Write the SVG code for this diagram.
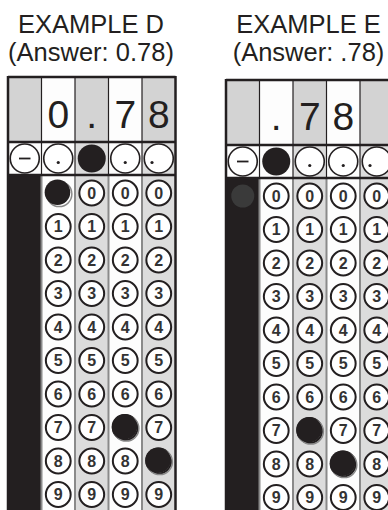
<svg xmlns="http://www.w3.org/2000/svg" width="388" height="510" viewBox="0 0 388 510">
<defs>
<style>
.title{font-family:"Liberation Sans",Arial,sans-serif;font-size:25.5px;fill:#231f20;text-anchor:middle}
.big{font-family:"Liberation Sans",Arial,sans-serif;font-size:39px;fill:#231f20;text-anchor:middle}
.num{font-family:"Liberation Sans",Arial,sans-serif;font-size:16px;font-weight:bold;fill:#333;text-anchor:middle}
.gray{fill:#d3d3d3}
.lt{fill:#dcdcdc}
.wh{fill:#fdfdfd}
.blk{fill:#231f20}
.bub{fill:#fff;stroke:#231f20;stroke-width:2}
.bbub{fill:#fff;stroke:#231f20;stroke-width:1.6}
.fill{fill:#231f20}
.ring{fill:none;stroke:#888;stroke-width:1.5}
.sep{stroke:#8a8a8a;stroke-width:2}
.thin{stroke:#231f20;stroke-width:1.2}
.thick{stroke:#231f20;stroke-width:2.5;fill:none}
</style>
<g id="dcol">
<circle class="bub" cx="0" cy="0" r="12.4"/><text class="num" x="0" y="5.7">0</text>
<circle class="bub" cx="0" cy="33.5" r="12.4"/><text class="num" x="0" y="39.2">1</text>
<circle class="bub" cx="0" cy="67" r="12.4"/><text class="num" x="0" y="72.7">2</text>
<circle class="bub" cx="0" cy="100.5" r="12.4"/><text class="num" x="0" y="106.2">3</text>
<circle class="bub" cx="0" cy="134" r="12.4"/><text class="num" x="0" y="139.7">4</text>
<circle class="bub" cx="0" cy="167.5" r="12.4"/><text class="num" x="0" y="173.2">5</text>
<circle class="bub" cx="0" cy="201" r="12.4"/><text class="num" x="0" y="206.7">6</text>
<circle class="bub" cx="0" cy="234.5" r="12.4"/><text class="num" x="0" y="240.2">7</text>
<circle class="bub" cx="0" cy="268" r="12.4"/><text class="num" x="0" y="273.7">8</text>
<circle class="bub" cx="0" cy="301.5" r="12.4"/><text class="num" x="0" y="307.2">9</text>
</g>
<g id="dot">
<circle class="bbub" cx="0" cy="0" r="14.5"/><circle class="fill" cx="0" cy="4" r="1.6"/>
</g>
<g id="filled">
<circle class="ring" cx="1" cy="1" r="12.6"/><circle class="fill" cx="-0.8" cy="-0.8" r="12.8"/>
</g>
</defs>
<rect width="388" height="510" fill="#fff"/>

<g id="title-d">
<text class="title" x="91" y="33">EXAMPLE D</text>
<text class="title" x="91" y="61">(Answer: 0.78)</text>
</g>
<g id="title-e">
<text class="title" x="308.5" y="33">EXAMPLE E</text>
<text class="title" x="308.5" y="61">(Answer: .78)</text>
</g>

<g id="grid-d">
<rect class="gray" x="8" y="77" width="167.5" height="65"/>
<rect class="wh" x="41.5" y="77" width="33.5" height="65"/>
<rect class="wh" x="108.5" y="77" width="33.5" height="65"/>
<rect class="wh" x="8" y="142" width="167.5" height="33"/>
<rect class="lt" x="75" y="142" width="33.5" height="33"/>
<rect class="lt" x="142" y="142" width="33.5" height="33"/>
<rect class="wh" x="8" y="175" width="167.5" height="340"/>
<rect class="lt" x="75" y="175" width="33.5" height="340"/>
<rect class="lt" x="142" y="175" width="33.5" height="340"/>
<rect class="blk" x="8" y="175" width="33.5" height="340"/>
<line class="thin" x1="41.5" y1="77" x2="41.5" y2="175"/>
<line class="thin" x1="75" y1="77" x2="75" y2="175"/>
<line class="thin" x1="108.5" y1="77" x2="108.5" y2="175"/>
<line class="thin" x1="142" y1="77" x2="142" y2="175"/>
<line class="sep" x1="75" y1="176" x2="75" y2="510"/>
<line class="sep" x1="108.5" y1="176" x2="108.5" y2="510"/>
<line class="sep" x1="142" y1="176" x2="142" y2="510"/>
<line class="sep" x1="41.5" y1="176" x2="41.5" y2="510"/>
<line class="thick" x1="8" y1="77" x2="175.5" y2="77"/>
<line class="thick" x1="8" y1="142" x2="175.5" y2="142"/>
<line class="thick" x1="8" y1="175" x2="175.5" y2="175"/>
<line class="thick" x1="8" y1="76" x2="8" y2="510"/>
<line class="thick" x1="175.5" y1="76" x2="175.5" y2="510"/>
<text class="big" x="58.25" y="128">0</text>
<text class="big" x="91.75" y="128">.</text>
<text class="big" x="125.25" y="128">7</text>
<text class="big" x="158.75" y="128">8</text>
<circle class="bbub" cx="24.75" cy="158.5" r="14.5"/>
<line stroke="#231f20" stroke-width="1.8" x1="19" y1="158.5" x2="30.5" y2="158.5"/>
<use href="#dot" x="58.25" y="158.5"/>
<circle class="fill" cx="91.75" cy="158.5" r="14"/>
<use href="#dot" x="125.25" y="158.5"/>
<circle class="bbub" cx="158.75" cy="158.5" r="14.5"/><circle class="fill" cx="152" cy="162.5" r="1.6"/>
<use href="#dcol" x="58.25" y="193"/>
<use href="#dcol" x="91.75" y="193"/>
<use href="#dcol" x="125.25" y="193"/>
<use href="#dcol" x="158.75" y="193"/>
<rect class="wh" x="44" y="178" width="28" height="30"/>
<use href="#filled" x="58.25" y="193"/>
<use href="#filled" x="125.25" y="427.5"/>
<use href="#filled" x="158.75" y="461"/>
</g>

<g id="grid-e" transform="translate(218,3)">
<rect class="gray" x="8" y="77" width="167.5" height="65"/>
<rect class="wh" x="41.5" y="77" width="33.5" height="65"/>
<rect class="wh" x="108.5" y="77" width="33.5" height="65"/>
<rect class="wh" x="8" y="142" width="167.5" height="33"/>
<rect class="lt" x="75" y="142" width="33.5" height="33"/>
<rect class="lt" x="142" y="142" width="33.5" height="33"/>
<rect class="wh" x="8" y="175" width="167.5" height="340"/>
<rect class="lt" x="75" y="175" width="33.5" height="340"/>
<rect class="lt" x="142" y="175" width="33.5" height="340"/>
<rect class="blk" x="8" y="175" width="33.5" height="340"/>
<circle fill="#3a3a3a" cx="24.75" cy="193" r="11.5"/>
<line class="thin" x1="41.5" y1="77" x2="41.5" y2="175"/>
<line class="thin" x1="75" y1="77" x2="75" y2="175"/>
<line class="thin" x1="108.5" y1="77" x2="108.5" y2="175"/>
<line class="thin" x1="142" y1="77" x2="142" y2="175"/>
<line class="sep" x1="75" y1="176" x2="75" y2="510"/>
<line class="sep" x1="108.5" y1="176" x2="108.5" y2="510"/>
<line class="sep" x1="142" y1="176" x2="142" y2="510"/>
<line class="sep" x1="41.5" y1="176" x2="41.5" y2="510"/>
<line class="thick" x1="8" y1="77" x2="175.5" y2="77"/>
<line class="thick" x1="8" y1="142" x2="175.5" y2="142"/>
<line class="thick" x1="8" y1="175" x2="175.5" y2="175"/>
<line class="thick" x1="8" y1="76" x2="8" y2="510"/>
<line class="thick" x1="175.5" y1="76" x2="175.5" y2="510"/>
<text class="big" x="58.25" y="127">.</text>
<text class="big" x="91.75" y="127">7</text>
<text class="big" x="125.25" y="127">8</text>
<circle class="bbub" cx="24.75" cy="158.5" r="14.5"/>
<line stroke="#231f20" stroke-width="1.8" x1="19" y1="158.5" x2="30.5" y2="158.5"/>
<circle class="fill" cx="58.25" cy="158.5" r="14"/>
<use href="#dot" x="91.75" y="158.5"/>
<use href="#dot" x="125.25" y="158.5"/>
<circle class="bbub" cx="158.75" cy="158.5" r="14.5"/><circle class="fill" cx="152" cy="162.5" r="1.6"/>
<use href="#dcol" x="58.25" y="193"/>
<use href="#dcol" x="91.75" y="193"/>
<use href="#dcol" x="125.25" y="193"/>
<use href="#dcol" x="158.75" y="193"/>
<use href="#filled" x="91.75" y="427.5"/>
<use href="#filled" x="125.25" y="461"/>
</g>
</svg>
